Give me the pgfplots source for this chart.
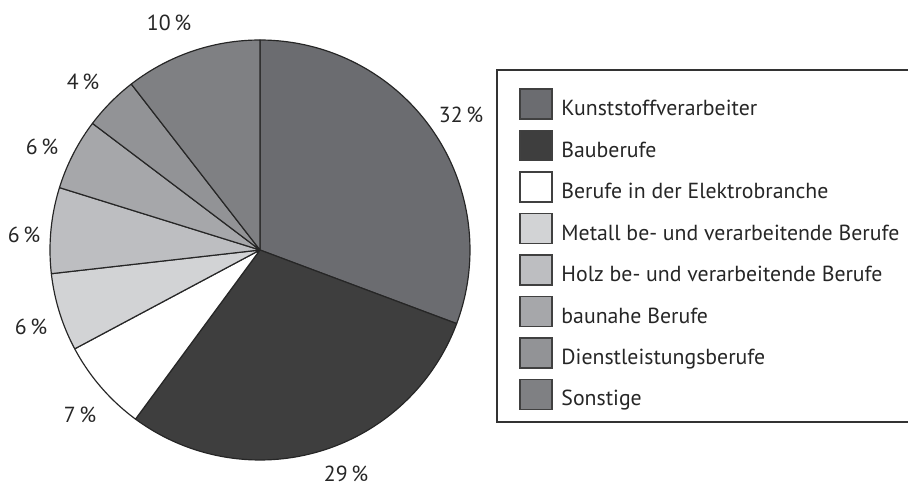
\documentclass[border=0pt]{standalone}
\usepackage{pgfplots}
\pgfplotsset{compat=1.18}
\usepackage{pgfplotstable}
\usepackage{fontspec}
\setmainfont{PT Sans}
\definecolor{c0}{HTML}{6B6C70}
\definecolor{c1}{HTML}{3E3E3E}
\definecolor{c2}{HTML}{FFFFFF}
\definecolor{c3}{HTML}{D2D3D5}
\definecolor{c4}{HTML}{BDBEC1}
\definecolor{c5}{HTML}{A6A7AA}
\definecolor{c6}{HTML}{929396}
\definecolor{c7}{HTML}{7F8083}
\newcommand\lbl{\fontsize{9.3pt}{11pt}\selectfont}
% slice share as drawn (percent), printed label, label position (pixel grid, y downwards)
\pgfplotstableread{
pct lab lx ly
30.7 32 461 115
29.4 29 346 474
7.1 7 80 415
6.0 6 31 327
6.6 6 24 235
5.5 6 42 147
4.2 4 83 82
10.5 10 169 23
}\piedata
\begin{document}
\begin{tikzpicture}
\begin{axis}[
  width=13.62cm, height=7.275cm, scale only axis,
  xmin=0, xmax=908, ymin=0, ymax=485,
  hide axis, clip=false,
]
\def\cum{0}
\pgfplotsforeachungrouped \i in {0,...,7}{%
  \pgfplotstablegetelem{\i}{pct}\of\piedata \let\p\pgfplotsretval
  \pgfplotstablegetelem{\i}{lab}\of\piedata \let\lab\pgfplotsretval
  \pgfplotstablegetelem{\i}{lx}\of\piedata \let\lx\pgfplotsretval
  \pgfplotstablegetelem{\i}{ly}\of\piedata \let\ly\pgfplotsretval
  \pgfmathsetmacro{\a}{90-3.6*\cum}%
  \pgfmathsetmacro{\b}{90-3.6*(\cum+\p)}%
  \pgfmathsetmacro{\cum}{\cum+\p}%
  \pgfmathsetmacro{\lyy}{485-\ly}%
  \edef\temp{%
    \noexpand\addplot[draw=black!85, line width=0.5pt, fill=c\i, domain=\b:\a, samples=90, line join=round]
      ({260+210*cos(x)},{235+210*sin(x)}) -- (axis cs:260,235) -- cycle;
    \noexpand\node[font=\noexpand\lbl, text=black!85, inner sep=0pt] at (axis cs:\lx,\lyy) {\lab\noexpand\,\noexpand\%};
  }%
  \temp
}
\end{axis}
\begin{scope}[x=0.015cm, y=0.015cm]
  \draw[black!80, line width=0.6pt] (930,415) -- (497,415) -- (497,63) -- (930,63);
  \foreach \n/\name in {0/Kunststoffverarbeiter, 1/Bauberufe, 2/Berufe in der Elektrobranche,
      3/Metall be- und verarbeitende Berufe, 4/Holz be- und verarbeitende Berufe,
      5/baunahe Berufe, 6/Dienstleistungsberufe, 7/Sonstige}{
    \pgfmathsetmacro{\yy}{485-104-41.5*\n}
    \draw[black!75, line width=0.5pt, fill=c\n] (520,\yy-15) rectangle (552,\yy+15);
    \node[anchor=base west, inner sep=0pt, font=\lbl, text=black!85] at (561,\yy-11.5) {\name};
  }
\end{scope}
\pgfresetboundingbox
\path (0,0) rectangle (13.62cm,7.275cm);
\end{tikzpicture}
\end{document}
